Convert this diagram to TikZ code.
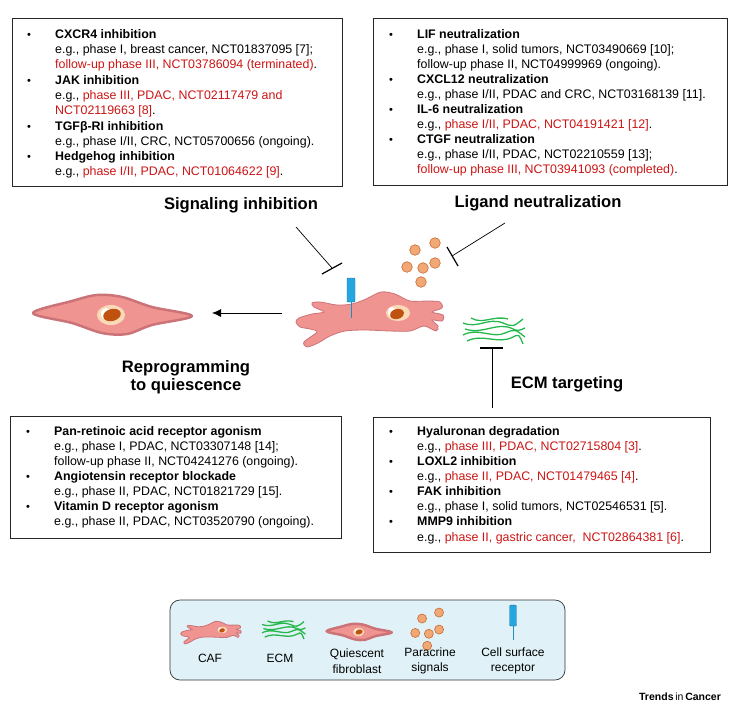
\documentclass[tikz,border=0pt]{standalone}
\usepackage{fontspec}
\setmainfont{Liberation Sans}
\usetikzlibrary{calc,arrows.meta}
\begin{document}
\definecolor{rd}{rgb}{0.80,0.08,0.08}
\definecolor{cellf}{rgb}{0.94,0.58,0.57}
\definecolor{celld}{rgb}{0.80,0.45,0.47}
\definecolor{nucp}{rgb}{0.98,0.85,0.72}
\definecolor{nucb}{rgb}{0.75,0.32,0.06}
\definecolor{ecmg}{rgb}{0.15,0.72,0.30}
\definecolor{ligf}{rgb}{0.95,0.66,0.46}
\definecolor{ligd}{rgb}{0.78,0.42,0.20}
\definecolor{recb}{rgb}{0.15,0.65,0.88}
\definecolor{legf}{rgb}{0.88,0.95,0.97}
\begin{tikzpicture}[x=1pt,y=-1pt,
  box/.style={draw=black!85,line width=0.7pt},
  txt/.style={anchor=base west,inner sep=0pt,font=\fontsize{12.4}{14}\selectfont},
  bul/.style={anchor=base,inner sep=0pt,font=\fontsize{11}{14}\selectfont},
  head/.style={font=\fontsize{16.6}{18}\selectfont\bfseries,align=center,inner sep=0pt},
  leg/.style={font=\fontsize{12}{15.5}\selectfont,align=center,inner sep=0pt},
  inh/.style={line width=0.7pt},
  pics/caf/.style={code={
    \begin{scope}[shift={(-370,-318)}]
    \draw[fill=cellf,draw=celld,line width=0.8pt] plot[smooth cycle,tension=0.5] coordinates{
      (299,318) (312,314) (324,312) (314,307) (312,303) (320,302) (337,305) (352,304)
      (366,299) (381,292) (395,294) (410,301) (428,301) (440,302) (442,308) (432,312)
      (443,315) (442,321) (432,320) (438,326) (436,331) (424,326) (410,331) (390,331)
      (365,330) (345,331) (330,336) (318,343) (307,347) (304,342) (317,332) (310,329)
      (300,327) (296,322)};
    \fill[nucp] (398,313) ellipse (12 and 8);
    \fill[white] (392,312) ellipse (4 and 5);
    \fill[nucb,rotate around={15:(397,314)}] (397,314) ellipse (7 and 5);
    \end{scope}
  }},
  pics/qfib/.style={code={
    \draw[fill=cellf,draw=celld,line width=2.5pt,line join=round] plot[smooth cycle,tension=0.55] coordinates{
      (-79,-2) (-40,-14) (-15,-20) (10,-18) (40,-8) (80,1) (40,10) (15,19) (-10,18) (-40,8)};
    \fill[nucp] (-1,0) ellipse (14 and 10);
    \fill[white] (-6,-1) ellipse (5 and 6);
    \fill[nucb,rotate around={15:(0,0)}] (0,0) ellipse (9 and 6);
  }},
  pics/ecm/.style={code={
    \draw[ecmg,line width=1.3pt]
      (-30,-8) .. controls (-15,-2) and (-5,-14) .. (10,-8) .. controls (20,-4) .. (30,-12)
      (-28,-2) .. controls (-10,4) and (5,-10) .. (20,-2) .. controls (25,0) .. (32,-3)
      (-30,4) .. controls (-15,-4) and (0,8) .. (12,2) .. controls (22,-2) .. (32,6)
      (-26,10) .. controls (-10,2) and (5,14) .. (20,6) .. controls (26,3) .. (30,13)
      (-22,-13) .. controls (-10,-6) and (0,-16) .. (15,-12);
  }},
  pics/lig/.style={code={
    \foreach \p in {(-7,-10),(13,-17),(-15,7),(1,8),(13,3),(-1,22)}
      \draw[fill=ligf,draw=ligd,line width=0.6pt] \p circle (5.3);
  }},
  pics/rec/.style={code={
    \draw[recb!85!black,line width=0.8pt] (0,0) -- (0,16);
    \draw[fill=recb,draw=recb!70!black,line width=0.4pt,rounded corners=1pt] (-4,-24) rectangle (4,0);
  }}
]
\useasboundingbox (0,0) rectangle (733,712);

% boxes
\draw[box] (12,18) rectangle (342,186);
\draw[box] (373,18) rectangle (727,185);
\draw[box] (10,416) rectangle (341,538);
\draw[box] (373,417) rectangle (710,552);

% top-left text
\node[bul] (b1) at (29,38) {\textbullet};
\node[txt] (t1) at (55,38) {\textbf{CXCR4 inhibition}};
\node[txt] (t2) at (55,53) {e.g., phase I, breast cancer, NCT01837095 [7];};
\node[txt,text=rd] (t3) at (55,68) {follow-up phase III, NCT03786094 (terminated)\textcolor{black}{.}};
\node[bul] (b2) at (29,84) {\textbullet};
\node[txt] (t4) at (55,84) {\textbf{JAK inhibition}};
\node[txt] (t5) at (55,99) {e.g., \textcolor{rd}{phase III, PDAC, NCT02117479 and}};
\node[txt,text=rd] (t6) at (55,114) {NCT02119663 [8]\textcolor{black}{.}};
\node[bul] (b3) at (29,130) {\textbullet};
\node[txt] (t7) at (55,130) {\textbf{TGFβ-RI inhibition}};
\node[txt] (t8) at (55,145) {e.g., phase I/II, CRC, NCT05700656 (ongoing).};
\node[bul] (b4) at (29,160) {\textbullet};
\node[txt] (t9) at (55,160) {\textbf{Hedgehog inhibition}};
\node[txt] (t10) at (55,175) {e.g., \textcolor{rd}{phase I/II, PDAC, NCT01064622 [9]}.};

% top-right text
\node[bul] (c1) at (391,38) {\textbullet};
\node[txt] (u1) at (417,38) {\textbf{LIF neutralization}};
\node[txt] (u2) at (417,53) {e.g., phase I, solid tumors, NCT03490669 [10];};
\node[txt] (u3) at (417,68) {follow-up phase II, NCT04999969 (ongoing).};
\node[bul] (c2) at (391,83) {\textbullet};
\node[txt] (u4) at (417,83) {\textbf{CXCL12 neutralization}};
\node[txt] (u5) at (417,98) {e.g., phase I/II, PDAC and CRC, NCT03168139 [11].};
\node[bul] (c3) at (391,113) {\textbullet};
\node[txt] (u6) at (417,113) {\textbf{IL-6 neutralization}};
\node[txt] (u7) at (417,128) {e.g., \textcolor{rd}{phase I/II, PDAC, NCT04191421 [12]}.};
\node[bul] (c4) at (391,143) {\textbullet};
\node[txt] (u8) at (417,143) {\textbf{CTGF neutralization}};
\node[txt] (u9) at (417,158) {e.g., phase I/II, PDAC, NCT02210559 [13];};
\node[txt,text=rd] (u10) at (417,173) {follow-up phase III, NCT03941093 (completed)\textcolor{black}{.}};

% bottom-left text
\node[bul] (d1) at (28,435) {\textbullet};
\node[txt] (v1) at (54,435) {\textbf{Pan-retinoic acid receptor agonism}};
\node[txt] (v2) at (54,450) {e.g., phase I, PDAC, NCT03307148 [14];};
\node[txt] (v3) at (54,465) {follow-up phase II, NCT04241276 (ongoing).};
\node[bul] (d2) at (28,480) {\textbullet};
\node[txt] (v4) at (54,480) {\textbf{Angiotensin receptor blockade}};
\node[txt] (v5) at (54,495) {e.g., phase II, PDAC, NCT01821729 [15].};
\node[bul] (d3) at (28,510) {\textbullet};
\node[txt] (v6) at (54,510) {\textbf{Vitamin D receptor agonism}};
\node[txt] (v7) at (54,525) {e.g., phase II, PDAC, NCT03520790 (ongoing).};

% bottom-right text
\node[bul] (e1) at (391,435) {\textbullet};
\node[txt] (w1) at (417,435) {\textbf{Hyaluronan degradation}};
\node[txt] (w2) at (417,450) {e.g., \textcolor{rd}{phase III, PDAC, NCT02715804 [3]}.};
\node[bul] (e2) at (391,465) {\textbullet};
\node[txt] (w3) at (417,465) {\textbf{LOXL2 inhibition}};
\node[txt] (w4) at (417,480) {e.g., \textcolor{rd}{phase II, PDAC, NCT01479465 [4]}.};
\node[bul] (e3) at (391,495) {\textbullet};
\node[txt] (w5) at (417,495) {\textbf{FAK inhibition}};
\node[txt] (w6) at (417,510) {e.g., phase I, solid tumors, NCT02546531 [5].};
\node[bul] (e4) at (391,525) {\textbullet};
\node[txt] (w7) at (417,525) {\textbf{MMP9 inhibition}};
\node[txt] (w8) at (417,541) {e.g., \textcolor{rd}{phase II, gastric cancer,\ \ NCT02864381 [6]}.};

% headings
\node[head] (h1) at (241,205) {Signaling inhibition};
\node[head] (h2) at (538,203) {Ligand neutralization};
\node[head] (h3) at (186,377) {Reprogramming\\to quiescence};
\node[head] (h4) at (567,384) {ECM targeting};

% center figure
\pic at (370,318) {caf};
\pic at (351,302) {rec};
\pic at (422,260) {lig};
\pic at (493,331) {ecm};
\pic at (112,315) {qfib};

% connectors
\coordinate (s0) at (296,227); \coordinate (s1) at (332,268);
\draw[inh] (s0) -- (s1);
\draw[inh,line width=1.2pt] (322,274) -- (342,263);
\coordinate (l0) at (505,223); \coordinate (l1) at (452,256);
\draw[inh] (l0) -- (l1);
\draw[inh,line width=1.2pt] (447,247) -- (458,266);
\coordinate (m0) at (492,408); \coordinate (m1) at (492,348);
\draw[inh] (m0) -- (m1);
\draw[inh,line width=1.2pt] (480,348) -- (503,348);
\coordinate (a0) at (282,313); \coordinate (a1) at (212,313);
\draw[line width=0.8pt,-{Latex[length=9pt,width=8pt]}] (a0) -- (a1);

% legend
\draw[fill=legf,draw=black!80,line width=0.7pt,rounded corners=10pt] (170,600) rectangle (565,680);
\pic[scale=0.41] at (211,632) {caf};
\pic[scale=0.7] at (283,630) {ecm};
\pic[scale=0.41] at (359,632) {qfib};
\pic[scale=0.85] at (428,627) {lig};
\pic[scale=0.87] at (513,626) {rec};
\node[leg] (g1) at (210,658) {CAF};
\node[leg] (g2) at (280,658) {ECM};
\node[leg] (g3) at (357,661) {Quiescent\\fibroblast};
\node[leg] (g4) at (430,661) {Paracrine\\signals};
\node[leg] (g5) at (513,661) {Cell surface\\receptor};

\node[inner sep=0pt,font=\fontsize{10.5}{12}\selectfont\bfseries] (tc) at (680,697) {Trends\,\textnormal{in}\,Cancer};
\end{tikzpicture}
\end{document}
